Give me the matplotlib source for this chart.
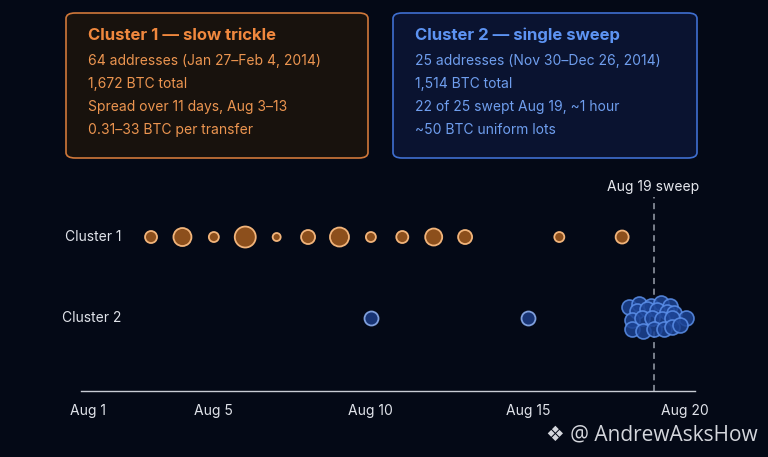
import matplotlib.pyplot as plt
from matplotlib.patches import FancyBboxPatch

plt.rcParams['font.family'] = ['Inter', 'DejaVu Sans']

# Cluster 1: slow trickle, one dot per day (size ~ BTC moved)
c1_days = [3, 4, 5, 6, 7, 8, 9, 10, 11, 12, 13, 16, 18]
c1_size = [6, 9, 5, 10.5, 4, 7, 9.5, 5, 6, 8.5, 7, 5, 6.5]

# Cluster 2: two early singles
c2_days = [10, 15]
c2_y = [0, 0]

# Cluster 2: Aug 19 sweep (jittered around the day)
sweep_x = [18.23, 18.55, 18.91, 19.23, 19.52, 18.47, 18.79, 19.11, 19.42, 19.66, 20.04,
           18.31, 18.63, 18.95, 19.26, 19.58, 18.31, 18.68, 19.00, 19.32, 19.58, 19.84]
sweep_y = [0.14, 0.17, 0.15, 0.18, 0.15, 0.09, 0.11, 0.10, 0.08, 0.06, 0.0,
           -0.02, 0.0, 0.0, -0.01, 0.0, -0.13, -0.16, -0.13, -0.14, -0.11, -0.08]

tick_days = [1, 5, 10, 15, 20]
tick_labels = ['Aug 1', 'Aug 5', 'Aug 10', 'Aug 15', 'Aug 20']
row_pos = [1, 0]
row_labels = ['Cluster 1', 'Cluster 2']

box1_lines = ['64 addresses (Jan 27\u2013Feb 4, 2014)', '1,672 BTC total',
              'Spread over 11 days, Aug 3\u201313', '0.31\u201333 BTC per transfer']
box2_lines = ['25 addresses (Nov 30\u2013Dec 26, 2014)', '1,514 BTC total',
              '22 of 25 swept Aug 19, ~1 hour', '~50 BTC uniform lots']

bg = '#040916'
W, H = 768, 457
fig = plt.figure(figsize=(7.68, 4.57), dpi=100, facecolor=bg)

ax = fig.add_axes([81 / W, 1 - 391 / H, 614 / W, 221 / H])
ax.set_facecolor(bg)
ax.set_xlim(0.77, 20.32)
ax.set_ylim(-0.90, 1.827)

# marker sizes given as radius in px -> points^2
s1 = [(r * 0.72 * 2) ** 2 for r in c1_size]
ax.scatter(c1_days, [1] * len(c1_days), s=s1, color='#8c4f1c', edgecolor='#f2b47a',
           linewidth=1.3, zorder=3)
ax.scatter(c2_days, c2_y, s=(7 * 0.72 * 2) ** 2, color='#183474', edgecolor='#7f9fdc',
           linewidth=1.3, zorder=3)
ax.scatter(sweep_x, sweep_y, s=(7.5 * 0.72 * 2) ** 2, color='#1c4394', edgecolor='#5c90ea',
           linewidth=1.2, alpha=0.85, zorder=3)

ax.axvline(19, ymin=0, ymax=0.878, color='#9aa0ac', linestyle=(0, (4, 3)),
           linewidth=1.1, zorder=2)
ax.text(19, 1.62, 'Aug 19 sweep', color='#e6e8ee', fontsize=10, ha='center', va='center')

for y, lab in zip(row_pos, row_labels):
    ax.text(2.05, y, lab, color='#e0e3ea', fontsize=10, ha='right', va='center',
            clip_on=False)

ax.set_xticks(tick_days)
ax.set_xticklabels(tick_labels)
ax.set_yticks([])
ax.tick_params(axis='x', length=0, pad=9, colors='#e0e3ea', labelsize=10)
for side in ['top', 'right', 'left']:
    ax.spines[side].set_visible(False)
ax.spines['bottom'].set_color('#c8ccd4')
ax.spines['bottom'].set_linewidth(1.0)

# info boxes
def info_box(x0, x1, face, edge, title_col, text_col, title, lines):
    box = FancyBboxPatch((x0 / W, 1 - 158 / H), (x1 - x0) / W, 145 / H,
                         boxstyle='round,pad=0,rounding_size=0.012',
                         transform=fig.transFigure, facecolor=face, edgecolor=edge,
                         linewidth=1.2)
    fig.patches.append(box)
    fig.text((x0 + 22) / W, 1 - 35 / H, title, color=title_col, fontsize=12,
             fontweight='bold', va='center')
    for i, line in enumerate(lines):
        fig.text((x0 + 22) / W, 1 - (61 + i * 23) / H, line, color=text_col,
                 fontsize=10, va='center')

info_box(66, 368, '#18120d', '#d0783a', '#f0883e', '#ec9550',
         'Cluster 1 \u2014 slow trickle', box1_lines)
info_box(393, 697, '#0a1330', '#3f6fd0', '#5d93f2', '#6f9eee',
         'Cluster 2 \u2014 single sweep', box2_lines)

fig.text(758 / W, 1 - 435 / H, '\u2756 @ AndrewAsksHow', color='#d4d6dc', fontsize=15,
         ha='right', va='center', family=['Open Sans', 'DejaVu Sans'])

fig.savefig('out.png', dpi=100, facecolor=bg)
